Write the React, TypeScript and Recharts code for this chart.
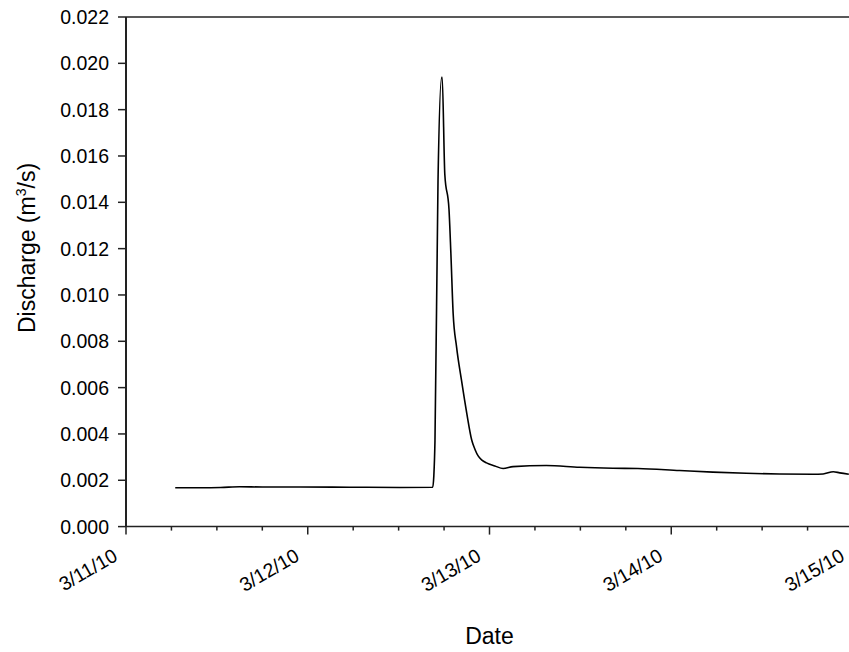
import React from "react";
import { LineChart, Line, XAxis, YAxis, ReferenceLine } from "recharts";

// hours since 3/11/10 00:00
const hours = [
  6.5, 9.8, 12.5, 15.0, 18.0, 23.0, 29.5, 36.2, 40.5, 40.65, 40.8, 41.2, 41.68, 41.75,
  42.1, 42.65, 42.9, 43.2, 43.65, 44.3, 45.0, 45.65, 46.1, 46.5, 47.0, 47.6, 48.7, 49.8, 51.1,
  55.5, 59.9, 64.3, 67.6, 73.1, 77.5, 81.9, 86.3, 90.7, 92.05, 93.4, 94.25, 95.45,
];
// discharge, m3/s
const discharge = [
  0.00168, 0.00168, 0.00169, 0.00172, 0.00171, 0.00171, 0.0017, 0.00169, 0.0017, 0.0022, 0.0037, 0.0149, 0.0194, 0.0194,
  0.0152, 0.0137, 0.0118, 0.0092, 0.00776, 0.00632, 0.00489, 0.00374, 0.00332, 0.00305, 0.00287, 0.00275, 0.00262, 0.00251, 0.00259,
  0.00264, 0.00256, 0.00252, 0.00251, 0.00242, 0.00235, 0.0023, 0.00227, 0.00226, 0.00227, 0.00237, 0.00232, 0.00226,
];

const yTicks = [0, 0.002, 0.004, 0.006, 0.008, 0.01, 0.012, 0.014, 0.016, 0.018, 0.02, 0.022];
const xTicks = [0, 6, 12, 18, 24, 30, 36, 42, 48, 54, 60, 66, 72, 78, 84, 90, 96];
const dateLabels: Record<number, string> = {
  0: "3/11/10", 24: "3/12/10", 48: "3/13/10", 72: "3/14/10", 96: "3/15/10",
};

const data = hours.map((h, i) => ({ h, q: discharge[i] }));

const FONT = "'Liberation Sans', Arial, sans-serif";
const AXIS = "#222";

function DateTick({ x, y, payload }: any) {
  const label = dateLabels[payload.value];
  const major = label !== undefined;
  return (
    <g>
      <line x1={x} x2={x} y1={y} y2={y + (major ? 8 : 4)} stroke={AXIS} strokeWidth={1.5} />
      {major && (
        <text
          x={x - 7}
          y={y + 33}
          textAnchor="end"
          transform={`rotate(-30, ${x - 7}, ${y + 33})`}
          fontSize={19.5}
          fontFamily={FONT}
          fill="#000"
        >
          {label}
        </text>
      )}
    </g>
  );
}

export default function App() {
  return (
    <div style={{ position: "absolute", left: 0, top: 0, width: 849, height: 652, overflow: "hidden", background: "#fff" }}>
      <LineChart width={900} height={652} data={data} margin={{ top: 17, right: 47, left: 0, bottom: 0 }}>
        <XAxis
          dataKey="h"
          type="number"
          domain={[0, 96]}
          ticks={xTicks}
          interval={0}
          height={125.4}
          tickLine={false}
          tickSize={0}
          tickMargin={0}
          tick={<DateTick />}
          axisLine={{ stroke: AXIS, strokeWidth: 1.5 }}
          label={{ value: "Date", position: "insideBottom", offset: 8, fontSize: 23, fontFamily: FONT, fill: "#000" }}
        />
        <YAxis
          type="number"
          domain={[0, 0.022]}
          ticks={yTicks}
          interval={0}
          width={126}
          tickSize={8}
          tickMargin={9}
          tickFormatter={(v: number) => v.toFixed(3)}
          tick={{ fontSize: 19.5, fontFamily: FONT, fill: "#000" }}
          tickLine={{ stroke: AXIS, strokeWidth: 1.5 }}
          axisLine={{ stroke: AXIS, strokeWidth: 2 }}
          label={
            <text x={37} y={274} transform="rotate(-90, 37, 274)" textAnchor="middle" fontSize={23} fontFamily={FONT} fill="#000">
              Discharge (m<tspan fontSize={14} dy={-9}>3</tspan><tspan dy={9}>/s)</tspan>
            </text>
          }
        />
        <ReferenceLine y={0.022} stroke={AXIS} strokeWidth={1.5} />
        <Line
          dataKey="q"
          type="monotone"
          stroke="#000"
          strokeWidth={1.6}
          dot={false}
          isAnimationActive={false}
        />
      </LineChart>
    </div>
  );
}
